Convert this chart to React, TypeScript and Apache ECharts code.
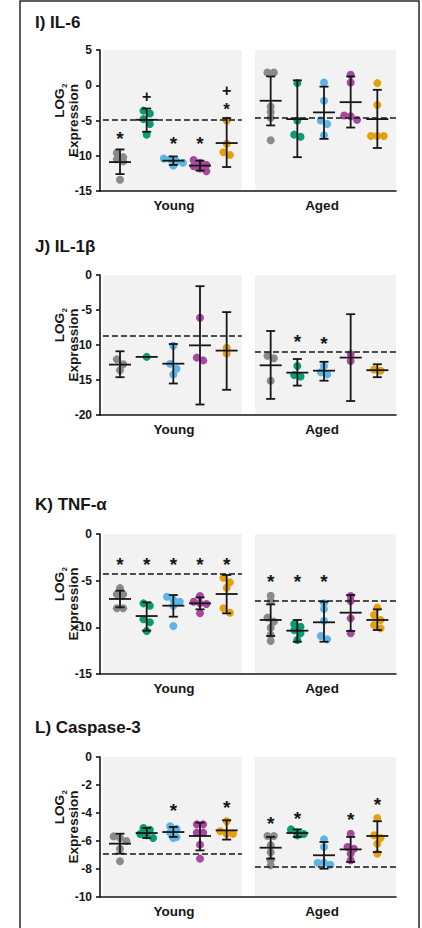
import React, { useEffect, useRef } from "react";
import * as echarts from "echarts";

const GROUPS = ["Young", "Aged"];
const COLORS = ["#8a8a8a", "#0a9b72", "#5cb5e6", "#a8489f", "#e6a00c"];
const FONT = '"Liberation Sans", Arial, Helvetica, sans-serif';
const INK = "#161616";

// ---- I) IL-6 : 10 groups (5 Young then 5 Aged)
const IL6_POINTS = [
  [-9.6, -10.2, -10.5, -10.8, -13.4],
  [-3.6, -4.0, -4.8, -5.5, -7.0],
  [-10.4, -10.5, -10.8, -11.0, -11.4],
  [-10.6, -11.0, -11.3, -11.5, -11.8, -12.2],
  [-5.0, -8.3, -9.5, -9.9],
  [1.8, 1.8, -3.0, -3.8, -4.6, -7.8],
  [0.3, -5.0, -7.0, -7.3],
  [0.4, -2.2, -5.0, -5.5, -7.1],
  [1.5, 0.4, -4.3, -4.4, -4.9],
  [0.3, -2.8, -7.2, -7.2, -7.2],
];
const IL6_MEAN = [-10.9, -4.9, -10.7, -11.4, -8.2, -2.2, -4.8, -3.85, -2.4, -4.8];
const IL6_LOW = [-12.6, -6.6, -11.3, -12.1, -11.6, -5.7, -10.2, -7.6, -6.0, -8.9];
const IL6_HIGH = [-9.1, -3.3, -10.1, -10.7, -4.65, 1.25, 0.7, -0.2, 1.25, -0.65];
const IL6_REF = [-4.9, -4.55];
const IL6_STAR = [-7.0, null, -7.7, -7.7, -2.7, null, null, null, null, null];
const IL6_PLUS = [null, -1.6, null, null, -1.1, null, null, null, null, null];

// ---- J) IL-1β
const IL1B_POINTS = [
  [-12.05, -12.75, -13.6],
  [-11.7],
  [-10.1, -12.7, -13.4, -14.2],
  [-6.1, -11.8, -12.2],
  [-10.4, -11.2],
  [-11.55, -11.9, -15.1],
  [-13.0, -14.3, -14.5],
  [-13.0, -13.9, -14.2],
  [-11.3, -12.3],
  [-13.5, -13.67],
];
const IL1B_MEAN = [-12.8, -11.7, -12.67, -10.05, -10.8, -12.9, -13.95, -13.67, -11.8, -13.6];
const IL1B_LOW = [-14.6, -11.7, -15.5, -18.5, -16.4, -17.7, -15.8, -15.1, -18.0, -14.6];
const IL1B_HIGH = [-10.9, -11.7, -9.86, -1.6, -5.3, -8.0, -12.0, -12.4, -5.6, -12.75];
const IL1B_REF = [-8.7, -10.95];
const IL1B_STAR = [null, null, null, null, null, null, -8.95, -9.15, null, null];
const IL1B_PLUS = [null, null, null, null, null, null, null, null, null, null];

// ---- K) TNF-α
const TNF_POINTS = [
  [-5.8, -6.45, -6.45, -7.95, -7.95],
  [-7.43, -7.68, -9.14, -9.46, -10.4],
  [-6.72, -7.05, -7.25, -7.7, -9.86],
  [-6.64, -7.25, -7.43, -7.5, -8.5],
  [-4.68, -5.18, -5.75, -7.96, -8.43],
  [-6.61, -7.18, -8.96, -9.39, -10.04, -10.82, -11.46],
  [-9.64, -9.93, -10.3, -10.64, -11.36],
  [-7.43, -8.04, -9.29, -10.93, -11.29],
  [-6.64, -7.18, -9.04, -10.64],
  [-7.89, -8.68, -9.21, -9.75, -10.11],
];
const TNF_MEAN = [-6.96, -8.79, -7.68, -7.43, -6.43, -9.21, -10.36, -9.46, -8.43, -9.21];
const TNF_LOW = [-7.86, -10.36, -8.86, -8.07, -8.5, -10.93, -11.54, -11.54, -10.39, -10.29];
const TNF_HIGH = [-6.07, -7.32, -6.54, -6.79, -4.39, -7.54, -9.21, -7.25, -6.54, -8.07];
const TNF_REF = [-4.29, -7.18];
const TNF_STAR = [-2.8, -2.8, -2.8, -2.8, -2.8, -4.68, -4.68, -4.68, null, null];
const TNF_PLUS = [null, null, null, null, null, null, null, null, null, null];

// ---- L) Caspase-3
const CASP_POINTS = [
  [-5.67, -5.79, -6.0, -6.55, -7.45],
  [-5.07, -5.2, -5.5, -5.6, -5.79],
  [-4.95, -5.12, -5.4, -5.71, -5.79],
  [-4.81, -4.81, -5.4, -5.4, -6.26, -7.26],
  [-4.59, -5.3, -5.48, -5.48],
  [-5.64, -5.64, -6.3, -6.8, -7.38, -7.74],
  [-5.17, -5.4, -5.5, -5.6],
  [-5.88, -6.43, -7.55, -7.55, -7.7],
  [-5.48, -6.43, -6.55, -6.9, -7.38],
  [-4.36, -5.6, -5.79, -6.2, -6.9],
];
const CASP_MEAN = [-6.19, -5.43, -5.36, -5.64, -5.24, -6.48, -5.43, -7.02, -6.6, -5.64];
const CASP_LOW = [-6.9, -5.79, -5.71, -6.67, -5.9, -7.26, -5.71, -7.98, -7.5, -6.79];
const CASP_HIGH = [-5.48, -5.07, -5.0, -4.69, -4.52, -5.71, -5.17, -6.07, -5.71, -4.59];
const CASP_REF = [-6.9, -7.81];
const CASP_STAR = [null, null, -3.57, null, -3.33, -4.45, -4.1, null, -4.21, -3.14];
const CASP_PLUS = [null, null, null, null, null, null, null, null, null, null];

// ---- layout (x in group-spacing units)
const X_MIN = 0;
const X_MAX = 11.1;
const GROUP_X = [0.75, 1.75, 2.75, 3.75, 4.75, 6.4, 7.4, 8.4, 9.4, 10.4];
const BG_RANGES = [
  [0.11, 5.32],
  [5.81, 11.1],
];
const GRID_LEFT = 100;
const GRID_RIGHT = 26;
const DOT_STEP = 0.24;
const ROW_PX = 5;

const PANELS = [
  { title: "I) IL-6", points: IL6_POINTS, mean: IL6_MEAN, low: IL6_LOW, high: IL6_HIGH, ref: IL6_REF, star: IL6_STAR, plus: IL6_PLUS, min: -15, max: 5, interval: 5, top: 50, height: 141, titleY: 22 },
  { title: "J) IL-1β", points: IL1B_POINTS, mean: IL1B_MEAN, low: IL1B_LOW, high: IL1B_HIGH, ref: IL1B_REF, star: IL1B_STAR, plus: IL1B_PLUS, min: -20, max: 0, interval: 5, top: 275, height: 140, titleY: 246 },
  { title: "K) TNF-α", points: TNF_POINTS, mean: TNF_MEAN, low: TNF_LOW, high: TNF_HIGH, ref: TNF_REF, star: TNF_STAR, plus: TNF_PLUS, min: -15, max: 0, interval: 5, top: 534, height: 140, titleY: 504 },
  { title: "L) Caspase-3", points: CASP_POINTS, mean: CASP_MEAN, low: CASP_LOW, high: CASP_HIGH, ref: CASP_REF, star: CASP_STAR, plus: CASP_PLUS, min: -10, max: 0, interval: 2, top: 757, height: 140, titleY: 727 },
];

function swarm(values: number[], pxPerUnitY: number): number[] {
  const idx = values.map((_, i) => i).sort((a, b) => values[b] - values[a]);
  const offs = new Array(values.length).fill(0);
  let row: number[] = [];
  const flush = () => {
    row.forEach((k, j) => (offs[k] = (j - (row.length - 1) / 2) * DOT_STEP));
    row = [];
  };
  for (const k of idx) {
    if (row.length && (values[row[0]] - values[k]) * pxPerUnitY > ROW_PX) flush();
    row.push(k);
  }
  flush();
  return offs;
}

function markText(text: string, x: number, y: number, fontSize: number) {
  return {
    type: "text",
    x,
    y,
    style: {
      text,
      fontSize,
      fontWeight: "bold",
      fontFamily: FONT,
      fill: INK,
      align: "center",
      verticalAlign: "middle",
      textAlign: "center",
      textVerticalAlign: "middle",
    },
  };
}

function buildOption() {
  const grid: any[] = [];
  const xAxis: any[] = [];
  const yAxis: any[] = [];
  const series: any[] = [];
  const graphic: any[] = [];
  const axisLineStyle = { color: INK, width: 1.6 };

  graphic.push({
    type: "rect",
    silent: true,
    shape: { x: 20, y: 1, width: 399, height: 932 },
    style: { fill: "none", stroke: "#2a2a2a", lineWidth: 1.5 },
  });

  PANELS.forEach((p, i) => {
    grid.push({ left: GRID_LEFT, right: GRID_RIGHT, top: p.top, height: p.height });
    xAxis.push({
      type: "category",
      gridIndex: i,
      data: GROUPS,
      z: 6,
      axisLine: { onZero: false, lineStyle: axisLineStyle },
      axisTick: { alignWithLabel: true, length: 4, lineStyle: axisLineStyle },
      axisLabel: { fontFamily: FONT, fontWeight: "bold", fontSize: 13.5, color: INK, margin: 7 },
      splitLine: { show: false },
    });
    xAxis.push({ type: "value", gridIndex: i, min: X_MIN, max: X_MAX, show: false, axisLine: { onZero: false } });
    yAxis.push({
      type: "value",
      gridIndex: i,
      min: p.min,
      max: p.max,
      interval: p.interval,
      z: 6,
      axisLine: { show: true, onZero: false, lineStyle: axisLineStyle },
      axisTick: { show: true, length: 4, lineStyle: axisLineStyle },
      axisLabel: { fontFamily: FONT, fontWeight: "bold", fontSize: 12, color: INK, margin: 8 },
      splitLine: { show: false },
    });
    const xi = 2 * i + 1;
    const pxPerUnitY = p.height / (p.max - p.min);

    // background panels + reference dashed lines
    series.push({
      type: "line",
      xAxisIndex: xi,
      yAxisIndex: i,
      data: [],
      z: 1,
      silent: true,
      markArea: {
        silent: true,
        itemStyle: { color: "#f2f2f2" },
        data: BG_RANGES.map((r) => [
          { xAxis: r[0], yAxis: p.min },
          { xAxis: r[1], yAxis: p.max },
        ]),
      },
      markLine: {
        silent: true,
        symbol: ["none", "none"],
        label: { show: false },
        lineStyle: { type: [6, 3], color: INK, width: 1.7 },
        data: p.ref.map((v, k) => [{ coord: [BG_RANGES[k][0], v] }, { coord: [BG_RANGES[k][1], v] }]),
      },
    });

    // dots, one series per colour
    COLORS.forEach((color, c) => {
      const data: number[][] = [];
      [c, c + 5].forEach((g) => {
        const vals = p.points[g];
        const offs = swarm(vals, pxPerUnitY);
        vals.forEach((v, k) => data.push([GROUP_X[g] + offs[k], v]));
      });
      series.push({
        type: "scatter",
        xAxisIndex: xi,
        yAxisIndex: i,
        symbol: "circle",
        symbolSize: 8,
        itemStyle: { color, opacity: 1 },
        data,
        z: 3,
      });
    });

    // mean and error bars
    series.push({
      type: "custom",
      xAxisIndex: xi,
      yAxisIndex: i,
      z: 4,
      encode: { x: 0, y: [1, 2, 3] },
      data: GROUP_X.map((x, g) => [x, p.mean[g], p.low[g], p.high[g]]),
      renderItem: (_params: any, api: any) => {
        const x = api.value(0);
        const pm = api.coord([x, api.value(1)]);
        const pl = api.coord([x, api.value(2)]);
        const ph = api.coord([x, api.value(3)]);
        const st = { stroke: INK, lineWidth: 1.8, fill: "none" };
        const children: any[] = [
          { type: "line", shape: { x1: pm[0] - 11, y1: pm[1], x2: pm[0] + 11, y2: pm[1] }, style: st },
        ];
        if (Math.abs(pl[1] - ph[1]) > 0.5) {
          children.push({ type: "line", shape: { x1: ph[0], y1: ph[1], x2: pl[0], y2: pl[1] }, style: st });
          children.push({ type: "line", shape: { x1: ph[0] - 4.5, y1: ph[1], x2: ph[0] + 4.5, y2: ph[1] }, style: st });
          children.push({ type: "line", shape: { x1: pl[0] - 4.5, y1: pl[1], x2: pl[0] + 4.5, y2: pl[1] }, style: st });
        }
        return { type: "group", children };
      },
    });

    // significance marks: [x, starY, plusY] (NaN when absent)
    const marks: number[][] = [];
    GROUP_X.forEach((x, g) => {
      const s = p.star[g];
      const pl = p.plus[g];
      if (s !== null || pl !== null) marks.push([x, s === null ? NaN : (s as number), pl === null ? NaN : (pl as number)]);
    });
    if (marks.length) {
      series.push({
        type: "custom",
        xAxisIndex: xi,
        yAxisIndex: i,
        z: 5,
        encode: { x: 0 },
        data: marks,
        renderItem: (_params: any, api: any) => {
          const x = api.value(0);
          const s = api.value(1);
          const pl = api.value(2);
          const hasS = !isNaN(s);
          const hasP = !isNaN(pl);
          const children: any[] = [];
          const stacked = hasS && hasP;
          if (hasS) {
            const pt = api.coord([x, s]);
            children.push(markText("*", pt[0], pt[1] + (stacked ? 5 : 4), stacked ? 17 : 19));
          }
          if (hasP) {
            const pt = api.coord([x, pl]);
            children.push(markText("+", pt[0], pt[1] - (stacked ? 3 : 0), 16));
          }
          return { type: "group", children };
        },
      });
    }

    // title
    graphic.push({
      type: "text",
      x: 35,
      y: p.titleY,
      silent: true,
      style: {
        text: p.title,
        fontSize: 17,
        fontWeight: "bold",
        fontFamily: FONT,
        fill: INK,
        align: "left",
        verticalAlign: "middle",
        textAlign: "left",
        textVerticalAlign: "middle",
      },
    });
    // y-axis name
    const cy = p.top + p.height / 2;
    const nameStyle = { fontWeight: "bold", fontFamily: FONT, fill: INK, verticalAlign: "middle", textVerticalAlign: "middle" };
    graphic.push({
      type: "text",
      x: 73,
      y: cy,
      rotation: Math.PI / 2,
      silent: true,
      style: { ...nameStyle, text: "Expression", fontSize: 13.5, align: "center", textAlign: "center" },
    });
    graphic.push({
      type: "text",
      x: 59,
      y: cy - 32,
      rotation: Math.PI / 2,
      silent: true,
      style: { ...nameStyle, text: "LOG", fontSize: 13.5, align: "right", textAlign: "right" },
    });
    graphic.push({
      type: "text",
      x: 64,
      y: cy - 37,
      rotation: Math.PI / 2,
      silent: true,
      style: { ...nameStyle, text: "2", fontSize: 7.5, align: "right", textAlign: "right" },
    });
  });

  return { animation: false, backgroundColor: "#ffffff", grid, xAxis, yAxis, series, graphic };
}

export default function App() {
  const ref = useRef<HTMLDivElement>(null);
  useEffect(() => {
    document.body.style.margin = "0";
    if (!ref.current) return;
    const chart = echarts.init(ref.current, undefined, { renderer: "svg" });
    chart.setOption(buildOption() as any);
    return () => chart.dispose();
  }, []);
  return <div ref={ref} style={{ width: 422, height: 928 }} />;
}
